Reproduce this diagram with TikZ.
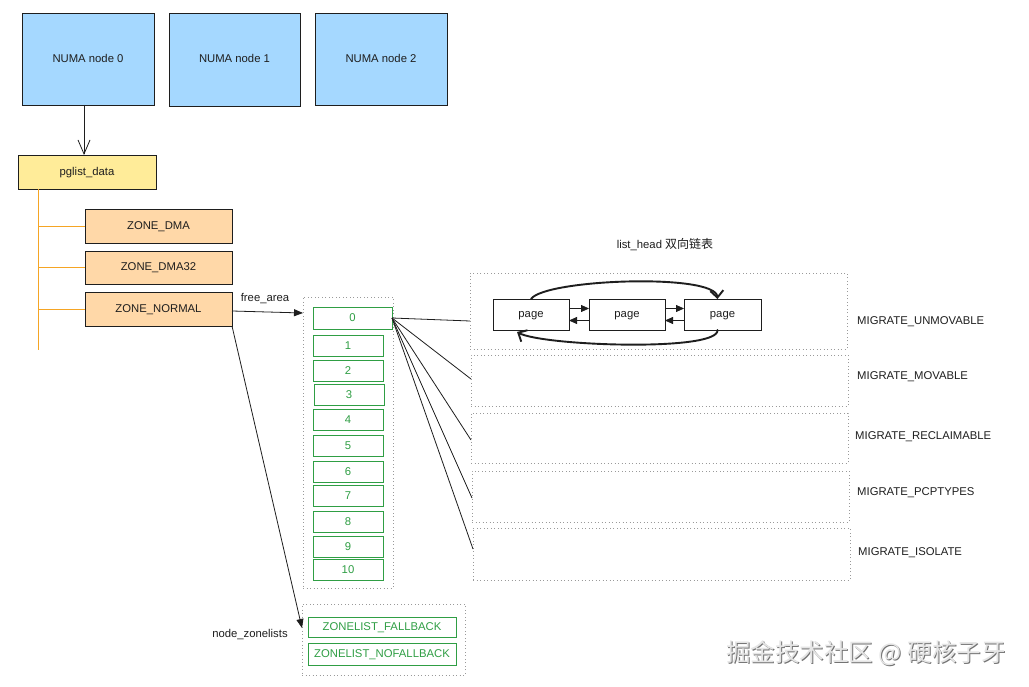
\documentclass[tikz,border=0pt]{standalone}
\usepackage{fontspec}
\setmainfont{Liberation Sans}
\newfontfamily\cjk{Noto Sans CJK SC}
\usetikzlibrary{arrows.meta,calc}
\definecolor{ink}{HTML}{1E1E1E}
\definecolor{numablue}{HTML}{A5D8FF}
\definecolor{pglyellow}{HTML}{FFEC99}
\definecolor{zoneorange}{HTML}{FFD8A8}
\definecolor{treeorange}{HTML}{F5A524}
\definecolor{grn}{HTML}{2F9E44}
\definecolor{dotgray}{HTML}{9A9A9A}
\begin{document}
\begin{tikzpicture}[x=1pt,y=-1pt,
  font=\fontsize{11.3}{13}\selectfont,
  box/.style={draw=ink, line width=0.9pt, inner sep=0pt, outer sep=0pt, text=ink, text height=7.5pt, text depth=0.5pt},
  numa/.style={box, fill=numablue, minimum width=132pt, minimum height=92pt},
  pgl/.style={box, fill=pglyellow, minimum width=138pt, minimum height=34pt},
  zone/.style={box, fill=zoneorange, minimum width=147pt, minimum height=34pt},
  gbox/.style={draw=grn, fill=white, text=grn, line width=0.9pt, minimum height=21pt, minimum width=70pt, inner sep=0pt, outer sep=0pt, text height=7.5pt, text depth=0.5pt},
  dotbox/.style={draw=dotgray, line width=0.9pt, dash pattern=on 0.9pt off 2.6pt, inner sep=0pt, outer sep=0pt},
  pagebox/.style={box, fill=white, minimum width=76pt, minimum height=31pt},
  lbl/.style={inner sep=0pt, text=ink},
  conn/.style={draw=ink, line width=0.8pt},
  orng/.style={draw=treeorange, line width=0.9pt},
  curv/.style={draw=ink, line width=1.9pt, line cap=round, -{Straight Barb[length=7pt,width=13pt]}},
  tri/.style={-{Triangle[length=9pt,width=7pt]}},
  smalltri/.style={-{Triangle[length=8pt,width=7pt]}}
]
\useasboundingbox[fill=white] (0,0) rectangle (1029,687);

% NUMA nodes
\node[numa] (n0) at (88,59) {NUMA node 0};
\node[numa, minimum width=131pt, minimum height=93pt] (n1) at (234.5,59.5) {NUMA node 1};
\node[numa] (n2) at (381,59) {NUMA node 2};

% pglist_data and zones
\node[pgl] (pg) at (87,172) {pglist\_data};
\node[zone] (zd) at (158.5,226) {ZONE\_DMA};
\node[zone, minimum height=33pt] (zd32) at (158.5,267.5) {ZONE\_DMA32};
\node[zone] (zn) at (158.5,309) {ZONE\_NORMAL};

\draw[conn, -{Straight Barb[length=14pt,width=12pt]}] ([xshift=-4pt]n0.south) -- ([xshift=-3pt]pg.north);

% orange tree
\coordinate (tt) at ([xshift=20.5pt]pg.south west);
\coordinate (tb) at ($(tt)+(0,161)$);
\draw[orng] (tt) -- (tb);
\draw[orng] (tt |- zd.west) -- (zd.west);
\draw[orng] (tt |- zd32.west) -- (zd32.west);
\draw[orng] (tt |- zn.west) -- (zn.west);

% free_area
\node[dotbox, minimum width=90pt, minimum height=291pt] (fa) at (348,442.5) {};
\node[gbox, minimum width=79pt, minimum height=22pt] (f0) at (352.5,318) {0};
\node[gbox] (f1) at (348,345.5) {1};
\node[gbox] (f2) at (348,370.5) {2};
\node[gbox] (f3) at (349,395) {3};
\node[gbox] (f4) at (348,419.5) {4};
\node[gbox] (f5) at (348,445.5) {5};
\node[gbox] (f6) at (348,471.5) {6};
\node[gbox] (f7) at (348,495.5) {7};
\node[gbox] (f8) at (348,521.5) {8};
\node[gbox] (f9) at (348,546.5) {9};
\node[gbox] (f10) at (348,569.5) {10};

\node[lbl] (falbl) at (265,299) {free\_area};
\draw[conn, tri] ([yshift=-2pt]zn.east) -- ([yshift=-16pt]fa.north west);

% zonelists
\node[dotbox, minimum width=163pt, minimum height=71pt] (zl) at (383.5,639.5) {};
\node[gbox, minimum width=148pt, minimum height=20pt] (zf) at (382,627) {ZONELIST\_FALLBACK};
\node[gbox, minimum width=148pt, minimum height=22pt] (znf) at (382,654) {ZONELIST\_NOFALLBACK};
\node[lbl] (zllbl) at (250,635) {node\_zonelists};
\draw[conn, tri] (zn.south east) -- ([yshift=11.5pt]zl.west);

% migrate type lists
\node[dotbox, minimum width=377pt, minimum height=76pt] (m1) at (658.5,311) {};
\node[dotbox, minimum width=377pt, minimum height=51pt] (m2) at (659.5,380.5) {};
\node[dotbox, minimum width=377pt, minimum height=50pt] (m3) at (659.5,438) {};
\node[dotbox, minimum width=377pt, minimum height=51pt] (m4) at (660.5,496.5) {};
\node[dotbox, minimum width=377pt, minimum height=52pt] (m5) at (661.5,554) {};

\node[lbl, anchor=west] (l1) at (857,322) {MIGRATE\_UNMOVABLE};
\node[lbl, anchor=west] (l2) at (857,377) {MIGRATE\_MOVABLE};
\node[lbl, anchor=west] (l3) at (855,437) {MIGRATE\_RECLAIMABLE};
\node[lbl, anchor=west] (l4) at (857,493) {MIGRATE\_PCPTYPES};
\node[lbl, anchor=west] (l5) at (858,553) {MIGRATE\_ISOLATE};

\node[lbl] (lh) at (665,245) {list\_head {\cjk\fontsize{12}{14}\selectfont 双向链表}};

\draw[conn] (f0.east) -- ([yshift=-10pt]m1.west);
\draw[conn] (f0.east) -- ([yshift=1.5pt]m2.west);
\draw[conn] (f0.east) -- ([yshift=-2pt]m3.west);
\draw[conn] (f0.east) -- ([yshift=-1.5pt]m4.west);
\draw[conn] (f0.east) -- ([yshift=5pt]m5.west);

% pages
\node[pagebox] (p1) at (531,314.5) {page};
\node[pagebox] (p2) at (627,314.5) {page};
\node[pagebox, minimum width=77pt] (p3) at (722.5,314.5) {page};

\draw[conn, smalltri] ([yshift=6pt]p1.east) -- ([yshift=6pt]p2.west);
\draw[conn, smalltri] ([yshift=-6pt]p2.west) -- ([yshift=-6pt]p1.east);
\draw[conn, smalltri] ([yshift=6pt]p2.east) -- ([yshift=6pt]p3.west);
\draw[conn, smalltri] ([yshift=-6pt]p3.west) -- ([yshift=-6pt]p2.east);

\draw[curv] (p1.north) .. controls +(14,-20) and +(-2,-26) .. ([xshift=-5pt]p3.north);
\draw[curv] ([xshift=-5pt]p3.south) .. controls +(2,22) and +(26,14) .. ([xshift=-14pt,yshift=-2pt]p1.south);

% watermark
\node[inner sep=0pt, font=\cjk\fontsize{24.5}{28}\selectfont, text=black!55] (wms) at (867,654) {掘金技术社区 @ 硬核子牙};
\node[inner sep=0pt, font=\cjk\fontsize{24.5}{28}\selectfont, text=black!10] (wm) at (866,653) {掘金技术社区 @ 硬核子牙};
\end{tikzpicture}
\end{document}
